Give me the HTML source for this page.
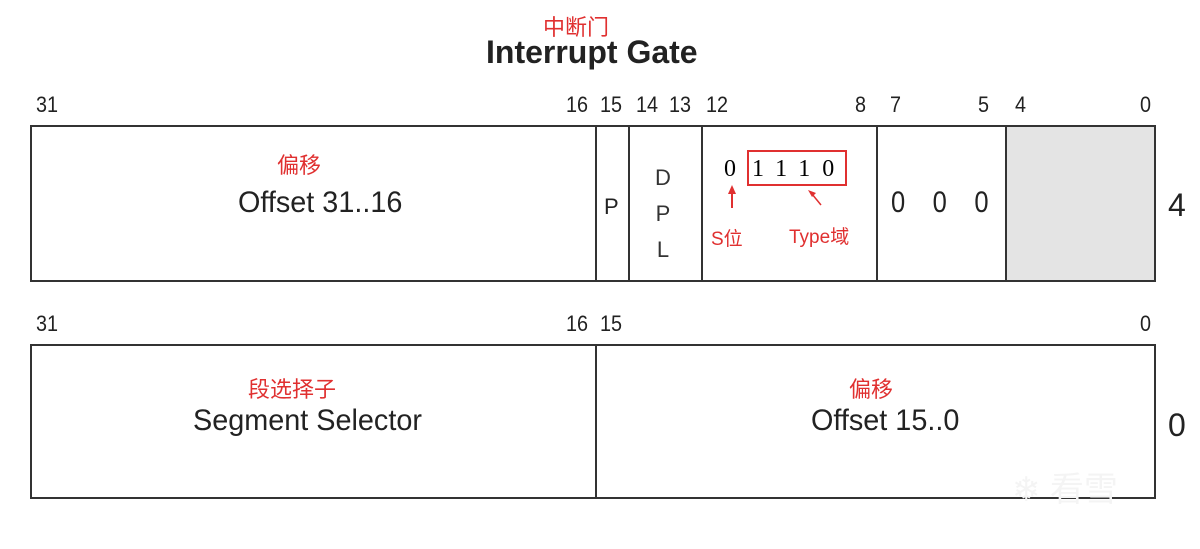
<!DOCTYPE html>
<html><head><meta charset="utf-8"><style>
body{margin:0;width:1200px;height:549px;background:#fff;position:relative;overflow:hidden;font-family:"Liberation Sans","Noto Sans CJK SC",sans-serif;color:#222}
.a{position:absolute;white-space:nowrap}
.n{font-size:22px;top:92px;transform:scaleX(.9);transform-origin:left}
.n2{font-size:22px;top:311px;transform:scaleX(.9);transform-origin:left}
.r{color:#e03030}
.box{position:absolute;border:2px solid #333;box-sizing:border-box}
.v{position:absolute;width:2px;background:#333}
</style></head><body>
<div class="a r" style="left:543px;top:10px;font-size:22px">中断门</div>
<div class="a" style="left:486px;top:34px;font-size:32px;font-weight:bold;transform:scaleX(1.0);transform-origin:left">Interrupt Gate</div>

<div class="a n" style="left:36px">31</div>
<div class="a n" style="left:566px">16</div>
<div class="a n" style="left:600px">15</div>
<div class="a n" style="left:636px">14</div>
<div class="a n" style="left:669px">13</div>
<div class="a n" style="left:706px">12</div>
<div class="a n" style="left:855px">8</div>
<div class="a n" style="left:890px">7</div>
<div class="a n" style="left:978px">5</div>
<div class="a n" style="left:1015px">4</div>
<div class="a n" style="left:1140px">0</div>

<div class="box" style="left:30px;top:125px;width:1126px;height:157px"></div>
<div class="a" style="left:1007px;top:127px;width:147px;height:153px;background:#e4e4e4"></div>
<div class="v" style="left:595px;top:125px;height:157px"></div>
<div class="v" style="left:628px;top:125px;height:157px"></div>
<div class="v" style="left:701px;top:125px;height:157px"></div>
<div class="v" style="left:876px;top:125px;height:157px"></div>
<div class="v" style="left:1005px;top:125px;height:157px"></div>

<div class="a r" style="left:277px;top:148px;font-size:22px">偏移</div>
<div class="a" style="left:238px;top:186px;font-size:30px;transform:scaleX(.96);transform-origin:left">Offset 31..16</div>
<div class="a" style="left:604px;top:194px;font-size:22px">P</div>
<div class="a" style="left:655px;top:160px;font-size:22px;line-height:36px;text-align:center;color:#333">D<br>P<br>L</div>
<div class="a" style="left:724px;top:156px;font-size:24px;font-family:'Liberation Serif',serif;color:#000">0</div>
<div class="a" style="left:747px;top:150px;width:100px;height:36px;border:2px solid #e03030;box-sizing:border-box"></div>
<div class="a" style="left:752px;top:156px;font-size:24px;font-family:'Liberation Serif',serif;color:#000;letter-spacing:12px">1110</div>
<svg class="a" style="left:700px;top:180px" width="180" height="40"><path d="M32 28 L32 12" stroke="#e03030" stroke-width="2"/><path d="M28 14 L32 5 L36 14Z" fill="#e03030"/><path d="M121 25 L112 14" stroke="#e03030" stroke-width="1.5"/><path d="M108 10 L116 13 L112 17Z" fill="#e03030"/></svg>
<div class="a r" style="left:711px;top:224px;font-size:19px">S位</div>
<div class="a r" style="left:789px;top:222px;font-size:19px">Type域</div>
<div class="a" style="left:891px;top:186px;font-size:30px;word-spacing:24px;transform:scaleX(.85);transform-origin:left">0 0 0</div>
<div class="a" style="left:1168px;top:187px;font-size:32px">4</div>

<div class="a n2" style="left:36px">31</div>
<div class="a n2" style="left:566px">16</div>
<div class="a n2" style="left:600px">15</div>
<div class="a n2" style="left:1140px">0</div>
<div class="box" style="left:30px;top:344px;width:1126px;height:155px"></div>
<div class="v" style="left:595px;top:344px;height:155px"></div>
<div class="a r" style="left:248px;top:372px;font-size:22px">段选择子</div>
<div class="a" style="left:193px;top:404px;font-size:30px;transform:scaleX(.96);transform-origin:left">Segment Selector</div>
<div class="a r" style="left:849px;top:372px;font-size:22px">偏移</div>
<div class="a" style="left:811px;top:404px;font-size:30px;transform:scaleX(.96);transform-origin:left">Offset 15..0</div>
<div class="a" style="left:1168px;top:407px;font-size:32px">0</div>
<div class="a" style="left:1012px;top:462px;font-size:34px;color:#f4f4f4">❄ 看雪</div>
</body></html>
